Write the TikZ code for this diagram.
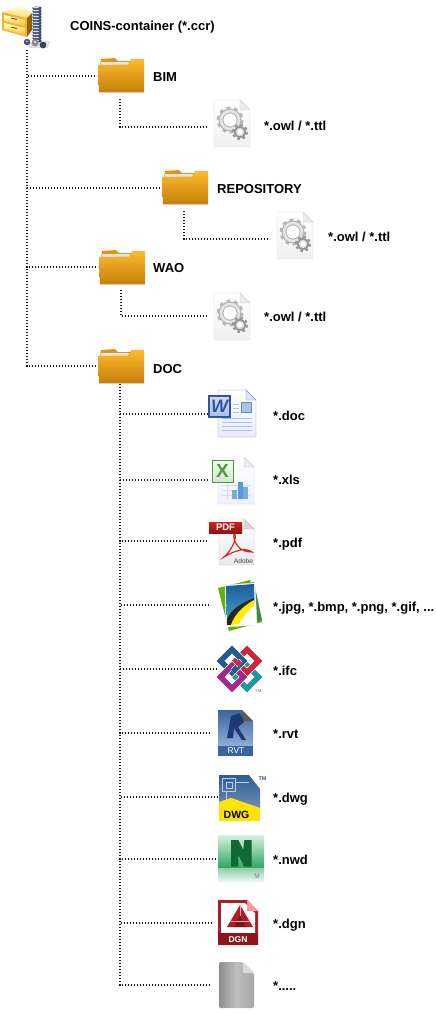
\documentclass[tikz,border=0pt]{standalone}
\usepackage{fontspec}
\setmainfont{Liberation Sans}

\definecolor{foldertop}{HTML}{FDBB2E}
\definecolor{folderlow}{HTML}{C67F0A}
\definecolor{wordblue}{HTML}{2F55A8}
\definecolor{xlsgreen}{HTML}{4F983C}
\definecolor{xlsbar}{HTML}{6FB0D8}
\definecolor{pdfred}{HTML}{D81E1E}
\definecolor{dgnred}{HTML}{B01C24}
\definecolor{zipblue}{HTML}{4F6480}
\definecolor{ifcblue}{HTML}{1F5A96}
\definecolor{ifcred}{HTML}{C8283C}
\definecolor{ifcpink}{HTML}{A0288C}
\definecolor{ifcteal}{HTML}{1E96A0}
\definecolor{rvtdark}{HTML}{3A639F}
\definecolor{rvtpale}{HTML}{A8C3E8}
\definecolor{rvtnavy}{HTML}{1C3A70}
\definecolor{dwgblue}{HTML}{2F5C96}
\definecolor{nwddark}{HTML}{0E6B38}
\definecolor{nwdmid}{HTML}{2FA561}
\definecolor{nwdpale}{HTML}{D8F0DF}
\definecolor{jpgblue}{HTML}{1B5C9C}
\definecolor{jpgsky}{HTML}{4FA5C8}

\tikzstyle{link} = [line width=1.1pt,black!90,dash pattern=on 1.2pt off 1.8pt]
\tikzstyle{iconbox} = [rectangle,anchor=west,inner sep=0pt,outer sep=0pt]
\tikzstyle{filetext} = [anchor=base west,inner sep=0pt,font=\fontsize{13}{13}\selectfont\bfseries]
\tikzstyle{icontext} = [inner sep=0pt]
\tikzstyle{ifcband} = [draw=white,line width=0.6pt,double distance=5.6pt,miter limit=10]

\tikzset{
  zipfile/.pic={
    \fill[black!12] (23,38) -- (48,36) -- (46,43) -- (28,43) -- cycle;
    \shade[top color=yellow!15!white,bottom color=yellow!50!orange!60!white] (0,7) -- (18,1) -- (30,8) -- (25,13) -- cycle;
    \fill[foldertop!85!brown] (0,7) -- (25,13) -- (25,32) -- (0,25) -- cycle;
    \fill[folderlow!75!black] (25,13) -- (30,8) -- (30,25) -- (25,32) -- cycle;
    \shade[top color=yellow!20!white,bottom color=foldertop] (2,10) -- (23,15) -- (23,21) -- (2,16) -- cycle;
    \shade[top color=yellow!20!white,bottom color=foldertop] (2,18) -- (23,23) -- (23,30) -- (2,24) -- cycle;
    \draw[folderlow!70!black,line width=1pt] (9,13) -- (15,14.5);
    \draw[folderlow!70!black,line width=1pt] (9,22) -- (15,23.5);
    \fill[zipblue] (31,2) rectangle (39,37);
    \foreach \zy in {3,6,...,36} {
      \fill[zipblue!80!black] (35,\zy) ellipse (5 and 1.5);
      \fill[white!85!blue] (34,\zy-0.5) ellipse (3.2 and 0.7);
    }
    \fill[zipblue!80!black] (25,37) circle (3.2);
    \fill[black!45] (33,38) circle (3.4);
    \fill[zipblue!70!black] (41,40) circle (3.4);
    \fill[black!15] (33,37) circle (1.4);
    \fill[black!25] (25,36.5) circle (1.2);
  },
  folder/.pic={
    \fill[folderlow!60!foldertop] (2,8) -- (3,2) -- (17,1) -- (20,4) -- (32,4) -- (32,8) -- cycle;
    \fill[black!10] (3,5) -- (31,5) -- (30,8) -- (2.5,8) -- cycle;
    \shade[top color=foldertop,bottom color=folderlow] (0,8) -- (31,7.5) -- (33,2) -- (46,2) -- (46,35) -- (1,35) -- cycle;
    \fill[black!18] (1,35) rectangle (46,36);
  },
  gearfile/.pic={
    \shade[top color=white,bottom color=black!6,draw=black!15] (0,0) -- (26,0) -- (36,10) -- (36,47) -- (0,47) -- cycle;
    \fill[black!8,draw=black!18] (26,0) -- (26,10) -- (36,10) -- cycle;
    \draw[black!28,line width=3pt,dash pattern=on 3.8pt off 3.74pt] (16,20) circle (12);
    \draw[black!30,line width=5pt] (16,20) circle (9);
    \draw[black!10,line width=2.6pt] (16,20) circle (9);
    \fill[white] (16,20) circle (6.4);
    \draw[black!42,line width=2pt,dash pattern=on 2.7pt off 2.8pt] (26,32) circle (7);
    \fill[black!42] (26,32) circle (6);
    \fill[black!12] (26,32) circle (4.2);
    \fill[white] (26,32) circle (2.4);
  },
  wordfile/.pic={
    \shade[top color=white,bottom color=blue!8,draw=wordblue!60] (10,0) -- (38,0) -- (48,10) -- (48,47) -- (10,47) -- cycle;
    \fill[blue!12,draw=wordblue!60] (38,0) -- (38,10) -- (48,10) -- cycle;
    \fill[rvtpale,draw=rvtpale!70!black] (33,12) rectangle (43,22);
    \draw[rvtpale,line width=0.8pt] (25,14) -- (31,14) (25,18) -- (31,18) (25,22) -- (31,22);
    \draw[rvtpale,line width=0.8pt] (14,28) -- (44,28) (14,32) -- (44,32) (14,36) -- (44,36) (14,40) -- (44,40);
    \shade[top color=white!85!blue,bottom color=rvtpale,draw=wordblue,line width=1.2pt] (1,6) rectangle (22,27);
    \node[icontext,text=wordblue,font=\fontsize{18}{18}\selectfont\bfseries\itshape] (wordw) at (11.5,16.5) {W};
  },
  xlsfile/.pic={
    \shade[top color=white,bottom color=blue!6,draw=black!18] (7,0) -- (33,0) -- (43,10) -- (43,47) -- (7,47) -- cycle;
    \fill[black!8,draw=black!18] (33,0) -- (33,10) -- (43,10) -- cycle;
    \draw[blue!15,line width=0.5pt] (10,28) -- (40,28) (10,33) -- (40,33) (10,38) -- (40,38) (16,26) -- (16,43);
    \fill[xlsbar] (21,33) rectangle (26,42);
    \fill[xlsbar!85!blue] (26.5,25) rectangle (31.5,42);
    \fill[xlsbar] (32,30) rectangle (37,42);
    \shade[top color=green!6,bottom color=xlsgreen!25,draw=xlsgreen,line width=1pt] (1,3) rectangle (22,25);
    \node[icontext,text=xlsgreen,font=\fontsize{19}{19}\selectfont\bfseries] (xlsx) at (11.5,14) {X};
  },
  pdffile/.pic={
    \shade[top color=white,bottom color=black!8,draw=black!25] (10,0) -- (35,0) -- (45,10) -- (45,46) -- (10,46) -- cycle;
    \fill[black!15,draw=black!25] (35,0) -- (35,10) -- (45,10) -- cycle;
    \shade[top color=pdfred,bottom color=pdfred!65!black] (0,3) rectangle (33,14);
    \node[icontext,text=white,font=\fontsize{9.5}{9.5}\selectfont\bfseries] (pdfa) at (16.5,8.7) {PDF};
    \draw[pdfred,line width=1.1pt] (15,38) .. controls (22,32) and (28,20) .. (26,15) .. controls (24,14) and (24,20) .. (28,26) .. controls (32,32) and (38,33) .. (43,33) .. controls (38,29) and (28,30) .. (15,38) -- cycle;
    \node[icontext,text=black!75,font=\fontsize{6.6}{6.6}\selectfont] (pdfb) at (34.5,42) {Adobe};
  },
  jpgfile/.pic={
    \fill[green!45!yellow!70!black] (1,9) -- (33,1) -- (45,43) -- (12,52) -- cycle;
    \fill[green!40!black!75] (33,4) -- (37,3) -- (45,41) -- (40,43) -- cycle;
    \fill[white,draw=black!8] (8,6) -- (38,4) -- (40,46) -- (9,48) -- cycle;
    \shade[top color=jpgblue,bottom color=jpgsky] (9,7) -- (37,5) -- (37.5,22) -- (10,46) -- cycle;
    \fill[black!85] (37,19) .. controls (25,24) and (14,30) .. (10,40) -- (10,46) -- (14,46) .. controls (18,36) and (28,28) .. (37,24) -- cycle;
    \fill[yellow!95!orange] (37,21) .. controls (28,26) and (18,34) .. (14,46) -- (22,45) .. controls (26,38) and (32,30) .. (37,27) -- cycle;
  },
  ifcfile/.pic={
    \draw[ifcband,double=ifcteal] (30,20.5) -- (41.5,32) -- (30,43.5) -- (18.5,32) -- cycle;
    \draw[ifcband,double=ifcred] (30,4.5) -- (41.5,16) -- (30,27.5) -- (18.5,16) -- cycle;
    \draw[ifcband,double=ifcblue] (15,4.5) -- (26.5,16) -- (15,27.5) -- (3.5,16) -- cycle;
    \draw[ifcband,double=ifcpink] (15,20.5) -- (26.5,32) -- (15,43.5) -- (3.5,32) -- cycle;
    \draw[ifcband,double=ifcblue] (21.5,21) -- (16,26.5);
    \draw[ifcband,double=ifcred] (23,19.5) -- (20,16.5);
    \node[icontext,text=black!55,font=\fontsize{4.5}{4.5}\selectfont] (ifctm) at (41,45.5) {TM};
  },
  rvtfile/.pic={
    \shade[top color=rvtdark,bottom color=rvtpale] (0,0) -- (24,0) -- (35,11) -- (35,46) -- (0,46) -- cycle;
    \fill[black!65] (24,0) -- (24,11) -- (35,11) -- cycle;
    \fill[rvtdark] (0,36) rectangle (35,46);
    \fill[rvtnavy] (9,28) -- (13,6) -- (22,3) -- (26,12) -- (20,17) -- (28,30) -- (24,30) -- (16,18) -- (15,28) -- cycle;
    \node[icontext,text=white,font=\fontsize{8.5}{8.5}\selectfont] (rvtt) at (18,41) {RVT};
  },
  dwgfile/.pic={
    \shade[top color=dwgblue,bottom color=dwgblue!70] (0,0) -- (30,0) -- (41,14) -- (41,33) -- (12,23) -- (0,27) -- cycle;
    \draw[white!70!dwgblue,line width=0.6pt] (3,3) rectangle (16,16) (7,7) rectangle (13,13) (16,7) -- (30,7) (7,16) -- (7,25);
    \fill[yellow!85!orange] (0,27) -- (12,23) -- (41,33) -- (41,46) -- (0,46) -- cycle;
    \node[icontext,text=black,font=\fontsize{10.5}{10.5}\selectfont\bfseries] (dwgt) at (17.5,39.5) {DWG};
    \node[icontext,text=dwgblue,font=\fontsize{5.5}{5.5}\selectfont\bfseries] (dwgm) at (43.5,3.5) {TM};
  },
  nwdfile/.pic={
    \shade[top color=nwdpale,bottom color=nwdmid] (0,0) rectangle (46,33);
    \shade[top color=nwdmid!55,bottom color=nwdpale!60] (0,33) rectangle (46,46);
    \fill[nwddark] (13,5) -- (20.3,5) -- (25.3,15) -- (26.3,5) -- (33.7,5) -- (33.7,31.7) -- (26.3,31.7) -- (20.3,20) -- (20.3,31.7) -- (13,31.7) -- cycle;
    \node[icontext,text=black!50,font=\fontsize{6.5}{6.5}\selectfont] (nwdm) at (39,41) {M};
  },
  dgnfile/.pic={
    \fill[dgnred] (0,0) -- (29,0) -- (40,11) -- (40,45) -- (0,45) -- cycle;
    \fill[white] (3,3) -- (27,3) -- (37,13) -- (37,33) -- (3,33) -- cycle;
    \fill[red!40!white] (29,0) -- (29,11) -- (40,11) -- cycle;
    \fill[dgnred] (22,5) -- (35,27) -- (9,27) -- cycle;
    \fill[dgnred!70!black] (22,16) -- (28,27) -- (16,27) -- cycle;
    \draw[white!70!red,line width=0.6pt] (22,5) -- (22,16) (13,21) -- (31,21);
    \fill[dgnred!80!black] (0,33) rectangle (40,45);
    \node[icontext,text=white,font=\fontsize{8.5}{8.5}\selectfont\bfseries] (dgnt) at (20,39.3) {DGN};
  },
  blankfile/.pic={
    \shade[left color=black!45,right color=black!35,middle color=black!25,rounded corners=2pt] (0,0) -- (24,0) -- (35,11) -- (35,46) -- (0,46) -- cycle;
    \fill[black!14] (24,0) -- (24,11) -- (35,11) -- cycle;
  }
}

\begin{document}
\begin{tikzpicture}[x=1pt,y=-1pt]
        \useasboundingbox (0,0) rectangle (436,1013);

        % Node positions
        \node[iconbox,minimum width=50pt,minimum height=46pt] (root) at (2,27) {};
        \node[iconbox,minimum width=46pt,minimum height=36pt] (bim) at (97,76) {};
        \node[iconbox,minimum width=43pt,minimum height=47pt] (owlbim) at (207,127) {};
        \node[iconbox,minimum width=46pt,minimum height=36pt] (repo) at (161,188) {};
        \node[iconbox,minimum width=43pt,minimum height=47pt] (owlrepo) at (270,239) {};
        \node[iconbox,minimum width=46pt,minimum height=36pt] (wao) at (98,267) {};
        \node[iconbox,minimum width=43pt,minimum height=47pt] (owlwao) at (207,316) {};
        \node[iconbox,minimum width=46pt,minimum height=36pt] (docs) at (97,366) {};
        \node[iconbox,minimum width=49pt,minimum height=47pt] (fdoc) at (208,414) {};
        \node[iconbox,minimum width=44pt,minimum height=47pt] (fxls) at (210,480) {};
        \node[iconbox,minimum width=47pt,minimum height=46pt] (fpdf) at (208,541) {};
        \node[iconbox,minimum width=52pt,minimum height=50pt] (fjpg) at (210,605) {};
        \node[iconbox,minimum width=45pt,minimum height=46pt] (fifc) at (217,669) {};
        \node[iconbox,minimum width=41pt,minimum height=46pt] (frvt) at (212,733) {};
        \node[iconbox,minimum width=42pt,minimum height=46pt] (fdwg) at (218,797) {};
        \node[iconbox,minimum width=46pt,minimum height=46pt] (fnwd) at (218,859) {};
        \node[iconbox,minimum width=44pt,minimum height=45pt] (fdgn) at (214,923) {};
        \node[iconbox,minimum width=44pt,minimum height=46pt] (fany) at (210,985) {};

        % Icons
        \pic at (2,5) {zipfile};
        \pic at (98,57) {folder};
        \pic at (214,100) {gearfile};
        \pic at (162,169) {folder};
        \pic at (277,212) {gearfile};
        \pic at (99,249) {folder};
        \pic at (214,293) {gearfile};
        \pic at (98,348) {folder};
        \pic at (208,390) {wordfile};
        \pic at (211,457) {xlsfile};
        \pic at (209,519) {pdffile};
        \pic at (217,579) {jpgfile};
        \pic at (217,645) {ifcfile};
        \pic at (218,710) {rvtfile};
        \pic at (219,775) {dwgfile};
        \pic at (218,835) {nwdfile};
        \pic at (218,900) {dgnfile};
        \pic at (219,962) {blankfile};

        % Labels
        \node[filetext] (troot) at (70,30.5) {COINS-container (*.ccr)};
        \node[filetext] (tbim) at (153,81.5) {BIM};
        \node[filetext] (towlbim) at (264,130) {*.owl / *.ttl};
        \node[filetext] (trepo) at (217,193) {REPOSITORY};
        \node[filetext] (towlrepo) at (328,241) {*.owl / *.ttl};
        \node[filetext] (twao) at (153,272.5) {WAO};
        \node[filetext] (towlwao) at (264,321) {*.owl / *.ttl};
        \node[filetext] (tdocs) at (153,373) {DOC};
        \node[filetext] (tdoc) at (273,420) {*.doc};
        \node[filetext] (txls) at (273,484) {*.xls};
        \node[filetext] (tpdf) at (273,547) {*.pdf};
        \node[filetext] (tjpg) at (273,611) {*.jpg, *.bmp, *.png, *.gif, ...};
        \node[filetext] (tifc) at (273,675) {*.ifc};
        \node[filetext] (trvt) at (273,738) {*.rvt};
        \node[filetext] (tdwg) at (273,802) {*.dwg};
        \node[filetext] (tnwd) at (273,864) {*.nwd};
        \node[filetext] (tdgn) at (273,928) {*.dgn};
        \node[filetext] (tany) at (273,990) {*.....};

        \draw[link] (root.south) |- (bim.west);
        \draw[link] (root.south) |- (repo.west);
        \draw[link] (root.south) |- (wao.west);
        \draw[link] (root.south) |- (docs.west);

        \draw[link,shorten <=5pt] (bim.south) |- (owlbim.west);
        \draw[link,shorten <=5pt] (repo.south) |- (owlrepo.west);
        \draw[link,shorten <=5pt] (wao.south) |- (owlwao.west);

        \draw[link] (docs.south) |- (fdoc.west);
        \draw[link] (docs.south) |- (fxls.west);
        \draw[link] (docs.south) |- (fpdf.west);
        \draw[link] (docs.south) |- (fjpg.west);
        \draw[link] (docs.south) |- (fifc.west);
        \draw[link] (docs.south) |- (frvt.west);
        \draw[link] (docs.south) |- (fdwg.west);
        \draw[link] (docs.south) |- (fnwd.west);
        \draw[link] (docs.south) |- (fdgn.west);
        \draw[link] (docs.south) |- (fany.west);
      \end{tikzpicture}
\end{document}
